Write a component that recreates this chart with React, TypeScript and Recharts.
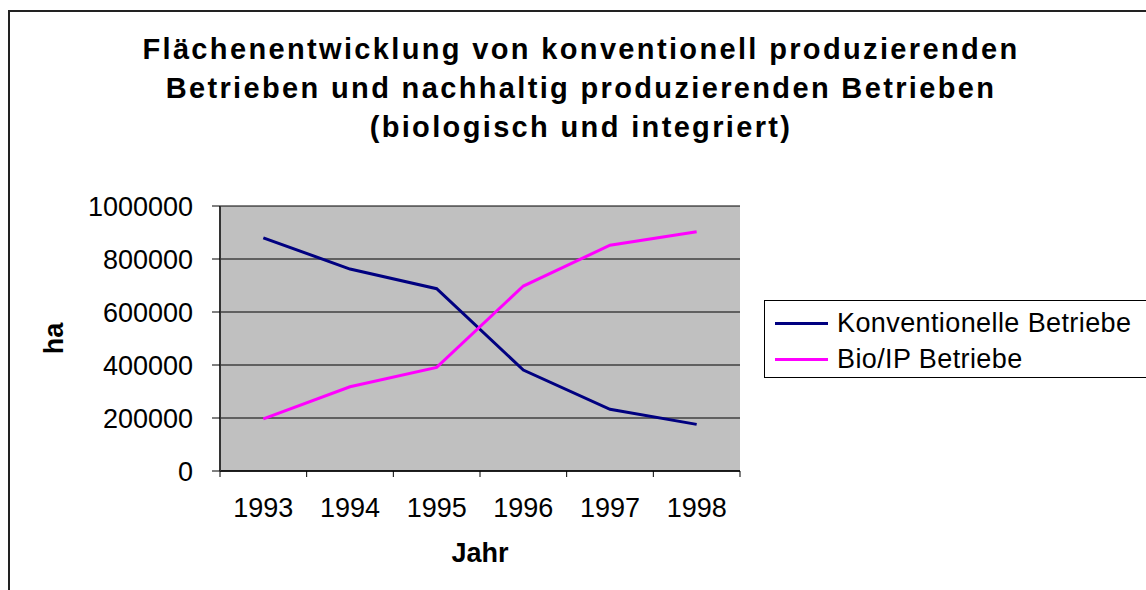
import React from 'react';
import { LineChart, Line, XAxis, YAxis, CartesianGrid, Legend } from 'recharts';

const TITLE_LINES = [
  'Flächenentwicklung von konventionell produzierenden',
  'Betrieben und nachhaltig produzierenden Betrieben',
  '(biologisch und integriert)',
];
const YEARS = ['1993', '1994', '1995', '1996', '1997', '1998'];
const KONVENTIONELL = [880000, 762000, 688000, 381000, 233000, 176000];
const BIO_IP = [197000, 318000, 391000, 698000, 852000, 903000];
const Y_TICKS = [0, 200000, 400000, 600000, 800000, 1000000];
const SERIES = [
  { key: 'konv', name: 'Konventionelle Betriebe', color: '#000080' },
  { key: 'bio', name: 'Bio/IP Betriebe', color: '#FF00FF' },
];
const X_LABEL = 'Jahr';
const Y_LABEL = 'ha';

const FONT = "'Liberation Sans', Arial, sans-serif";

const data = YEARS.map((year, i) => ({
  x: i + 0.5,
  year,
  konv: KONVENTIONELL[i],
  bio: BIO_IP[i],
}));
const xTicks: number[] = [];
for (let i = 0; i <= YEARS.length * 2; i++) xTicks.push(i / 2);

const XTick = (props: any) => {
  const { x, y, payload } = props;
  const v = payload.value as number;
  if (Number.isInteger(v)) {
    return <line x1={x} x2={x} y1={y} y2={y + 6} stroke="#000" strokeWidth={1} />;
  }
  return (
    <text
      x={x}
      y={y + 37}
      textAnchor="middle"
      dominantBaseline="central"
      fontFamily={FONT}
      fontSize={27}
      fill="#000"
    >
      {YEARS[Math.floor(v)]}
    </text>
  );
};

const seriesIndex = (name: string) => SERIES.findIndex((s) => s.name === name);

const LegendContent = (props: any) => {
  const payload = [...(props.payload || [])].sort(
    (a: any, b: any) => seriesIndex(a.value) - seriesIndex(b.value)
  );
  return (
    <div
      style={{
        border: '1px solid #000',
        boxSizing: 'border-box',
        width: 420,
        height: 78,
        background: '#fff',
        position: 'relative',
        fontFamily: FONT,
        fontSize: 27,
        letterSpacing: 0.4,
        color: '#000',
      }}
    >
      {payload.map((p: any, i: number) => (
        <div
          key={p.value}
          style={{
            position: 'absolute',
            left: 10,
            top: 4 + i * 36,
            height: 36,
            display: 'flex',
            alignItems: 'center',
            whiteSpace: 'nowrap',
          }}
        >
          <span style={{ display: 'inline-block', width: 53, height: 3, background: p.color }} />
          <span style={{ marginLeft: 9, lineHeight: '36px' }}>{p.value}</span>
        </div>
      ))}
    </div>
  );
};

export default function App() {
  return (
    <div
      style={{
        position: 'absolute',
        left: 0,
        top: 0,
        width: 1146,
        height: 590,
        overflow: 'hidden',
        background: '#fff',
      }}
    >
      <div
        style={{
          position: 'absolute',
          left: 8,
          top: 10,
          width: 1400,
          height: 900,
          border: '2px solid #222',
          boxSizing: 'border-box',
        }}
      />
      <svg
        width={1146}
        height={160}
        style={{ position: 'absolute', left: 0, top: 0 }}
      >
        {TITLE_LINES.map((t, i) => (
          <text
            key={i}
            x={581}
            y={59 + i * 39}
            textAnchor="middle"
            fontFamily={FONT}
            fontWeight="bold"
            fontSize={29}
            letterSpacing={2.35}
            fill="#000"
          >
            {t}
          </text>
        ))}
      </svg>
      <div style={{ position: 'absolute', left: 0, top: 0 }}>
        <LineChart
          width={1146}
          height={590}
          data={data}
          margin={{ top: 206, right: 406, bottom: 0, left: 0 }}
          style={{ fontFamily: FONT }}
        >
          <CartesianGrid vertical={false} stroke="#000" strokeWidth={1} fill="#C0C0C0" fillOpacity={1} />
          <XAxis
            dataKey="x"
            type="number"
            domain={[0, YEARS.length]}
            ticks={xTicks}
            interval={0}
            height={119}
            tickSize={0}
            tickMargin={0}
            tickLine={false}
            axisLine={{ stroke: '#000', strokeWidth: 1.5 }}
            tick={<XTick />}
            label={{
              content: (p: any) => {
                const vb = p.viewBox;
                return (
                  <text
                    x={vb.x + vb.width / 2}
                    y={vb.y + 82}
                    textAnchor="middle"
                    dominantBaseline="central"
                    fontFamily={FONT}
                    fontWeight="bold"
                    fontSize={27}
                    fill="#000"
                  >
                    {X_LABEL}
                  </text>
                );
              },
            }}
          />
          <XAxis
            xAxisId="top"
            dataKey="x"
            type="number"
            domain={[0, YEARS.length]}
            orientation="top"
            height={0}
            tick={false}
            tickLine={false}
            axisLine={{ stroke: '#808080', strokeWidth: 2 }}
          />
          <YAxis
            type="number"
            domain={[0, 1000000]}
            ticks={Y_TICKS}
            interval={0}
            width={220}
            tickSize={8}
            tickMargin={19}
            tickLine={{ stroke: '#000', strokeWidth: 1 }}
            axisLine={{ stroke: '#333', strokeWidth: 2 }}
            tick={{ fontFamily: FONT, fontSize: 27, fill: '#000' }}
            label={{
              content: (p: any) => {
                const vb = p.viewBox;
                const cx = vb.x + 54;
                const cy = vb.y + vb.height / 2;
                return (
                  <text
                    x={cx}
                    y={cy}
                    transform={`rotate(-90, ${cx}, ${cy})`}
                    textAnchor="middle"
                    dominantBaseline="central"
                    fontFamily={FONT}
                    fontWeight="bold"
                    fontSize={27}
                    fill="#000"
                  >
                    {Y_LABEL}
                  </text>
                );
              },
            }}
          />
          <YAxis
            yAxisId="right"
            orientation="right"
            domain={[0, 1000000]}
            width={0}
            tick={false}
            tickLine={false}
            axisLine={{ stroke: '#808080', strokeWidth: 3 }}
          />
          <Legend
            layout="vertical"
            align="center"
            verticalAlign="middle"
            content={<LegendContent />}
            wrapperStyle={{ left: 764, top: 300, width: 420, height: 78 }}
          />
          {SERIES.map((s) => (
            <Line
              key={s.key}
              type="linear"
              dataKey={s.key}
              name={s.name}
              stroke={s.color}
              strokeWidth={3}
              dot={false}
              activeDot={false}
              isAnimationActive={false}
            />
          ))}
        </LineChart>
      </div>
    </div>
  );
}
